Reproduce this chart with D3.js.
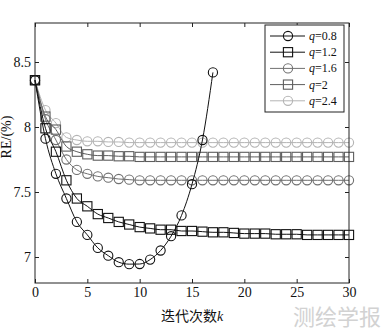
<!DOCTYPE html>
<html>
<head>
<meta charset="utf-8">
<script src="https://cdn.jsdelivr.net/npm/d3@7"></script>
<style>
  body { margin: 0; background: #fff; }
  svg { display: block; }
</style>
</head>
<body>
<div id="container"></div>
<script>
/* CONSTANTS AND GLOBALS */
const width = 384,
  height = 330,
  margin = { top: 23, bottom: 47, left: 35, right: 35 }

/* DATA */
const iterations = d3.range(0, 31)
const xTicks = [0, 5, 10, 15, 20, 25, 30]
const yTicks = [7, 7.5, 8, 8.5]
const seriesNames = ["0.8", "1.2", "1.6", "2", "2.4"]

const q08 = [8.36, 7.91, 7.64, 7.45, 7.27, 7.17, 7.07, 7.01, 6.96, 6.945, 6.946, 6.98, 7.05, 7.16, 7.32, 7.56, 7.90, 8.42]
const q12 = [8.36, 7.99, 7.81, 7.59, 7.45, 7.39, 7.33, 7.30, 7.27, 7.25, 7.23, 7.22, 7.21, 7.21, 7.20, 7.20,
  7.195, 7.19, 7.19, 7.185, 7.18, 7.18, 7.18, 7.175, 7.175, 7.175, 7.17, 7.17, 7.17, 7.17, 7.17]
const q16 = [8.36, 8.06, 7.90, 7.75, 7.67, 7.64, 7.62, 7.61, 7.60, 7.595, 7.59, 7.59, 7.59, 7.59, 7.59, 7.59,
  7.59, 7.59, 7.59, 7.59, 7.59, 7.59, 7.59, 7.59, 7.59, 7.59, 7.59, 7.59, 7.59, 7.59, 7.59]
const q2 = [8.36, 8.08, 7.98, 7.85, 7.81, 7.79, 7.78, 7.78, 7.775, 7.775, 7.77, 7.77, 7.77, 7.77, 7.77, 7.77,
  7.77, 7.77, 7.77, 7.77, 7.77, 7.77, 7.77, 7.77, 7.77, 7.77, 7.77, 7.77, 7.77, 7.77, 7.77]
const q24 = [8.36, 8.13, 8.03, 7.92, 7.90, 7.89, 7.89, 7.885, 7.885, 7.88, 7.88, 7.88, 7.88, 7.88, 7.88, 7.88,
  7.88, 7.88, 7.88, 7.88, 7.88, 7.88, 7.88, 7.88, 7.88, 7.88, 7.88, 7.88, 7.88, 7.88, 7.88]

const series = [
  { name: seriesNames[0], values: q08, color: "#111", marker: "circle" },
  { name: seriesNames[1], values: q12, color: "#111", marker: "square" },
  { name: seriesNames[2], values: q16, color: "#707070", marker: "circle" },
  { name: seriesNames[3], values: q2, color: "#5e5e5e", marker: "square" },
  { name: seriesNames[4], values: q24, color: "#b4b4b4", marker: "circle" }
]

// SCALES
const xScale = d3.scaleLinear()
  .domain([0, 30])
  .range([margin.left, width - margin.right])

const yScale = d3.scaleLinear()
  .domain([6.8, 8.8])
  .range([height - margin.bottom, margin.top])

// CREATE SVG ELEMENT
const svg = d3.select("#container")
  .append("svg")
  .attr("width", width)
  .attr("height", height)

const serif = "'Liberation Serif', 'Times New Roman', serif"

// WATERMARK (behind everything)
svg.append("text")
  .attr("x", 381)
  .attr("y", 325)
  .style("text-anchor", "end")
  .attr("font-family", "'Noto Sans CJK SC', sans-serif")
  .attr("font-size", 22)
  .attr("fill", "#d2d2d2")
  .text("测绘学报")

// LINES + MARKERS
const lineGen = d3.line()
  .x((d, i) => xScale(iterations[i]))
  .y(d => yScale(d))
  .curve(d3.curveMonotoneX)

function drawMarker(g, type, color) {
  if (type === "circle") {
    g.append("circle").attr("r", 4.6)
      .attr("fill", "none").attr("stroke", color).attr("stroke-width", 1.1)
  } else {
    g.append("rect").attr("x", -4.6).attr("y", -4.6).attr("width", 9.2).attr("height", 9.2)
      .attr("fill", "none").attr("stroke", color).attr("stroke-width", 1.1)
  }
}

// draw lighter series first so black ones sit on top
series.slice().reverse().forEach(s => {
  svg.append("path")
    .attr("fill", "none")
    .attr("stroke", s.color)
    .attr("stroke-width", 1)
    .attr("d", lineGen(s.values))

  s.values.forEach((v, i) => {
    const g = svg.append("g")
      .attr("transform", `translate(${xScale(iterations[i])}, ${yScale(v)})`)
    drawMarker(g, s.marker, s.color)
  })
})

// AXES (ticks pointing inward, box frame)
const axisStyle = g => {
  g.selectAll(".domain").remove()
  g.selectAll("line").attr("stroke", "#222")
  g.selectAll("text").attr("font-family", serif).attr("font-size", 14).attr("fill", "#111")
}

svg.append("g")
  .attr("transform", `translate(0, ${height - margin.bottom})`)
  .call(d3.axisBottom(xScale).tickValues(xTicks).tickSizeInner(-4).tickSizeOuter(0).tickPadding(4))
  .call(axisStyle)

svg.append("g")
  .attr("transform", `translate(0, ${margin.top})`)
  .call(d3.axisTop(xScale).tickValues(xTicks).tickSizeInner(-4).tickSizeOuter(0).tickFormat(""))
  .call(axisStyle)

svg.append("g")
  .attr("transform", `translate(${margin.left}, 0)`)
  .call(d3.axisLeft(yScale).tickValues(yTicks).tickSizeInner(-4).tickSizeOuter(0).tickPadding(4)
    .tickFormat(d3.format("")))
  .call(axisStyle)

svg.append("g")
  .attr("transform", `translate(${width - margin.right}, 0)`)
  .call(d3.axisRight(yScale).tickValues(yTicks).tickSizeInner(-4).tickSizeOuter(0).tickFormat(""))
  .call(axisStyle)

svg.append("rect")
  .attr("x", margin.left)
  .attr("y", margin.top)
  .attr("width", width - margin.left - margin.right)
  .attr("height", height - margin.top - margin.bottom)
  .attr("fill", "none")
  .attr("stroke", "#222")
  .attr("stroke-width", 1)

// AXIS LABELS
svg.append("text")
  .attr("transform", "rotate(-90)")
  .attr("x", -137)
  .attr("y", 11)
  .style("text-anchor", "middle")
  .attr("font-family", serif)
  .attr("font-size", 14)
  .attr("fill", "#111")
  .text("RE/(%)")

const xLabel = svg.append("text")
  .attr("x", (margin.left + width - margin.right) / 2)
  .attr("y", 321)
  .style("text-anchor", "middle")
  .attr("font-family", "'Noto Sans CJK SC', sans-serif")
  .attr("font-size", 14)
  .attr("fill", "#111")
xLabel.append("tspan").text("迭代次数")
xLabel.append("tspan").attr("font-family", serif).attr("font-style", "italic").text("k")

// LEGEND
const legend = svg.append("g")
legend.append("rect")
  .attr("x", 265).attr("y", 25)
  .attr("width", 79).attr("height", 87)
  .attr("fill", "#fff")
  .attr("stroke", "#222")

series.forEach((s, i) => {
  const y = 36 + i * 16.2
  const row = legend.append("g").attr("transform", `translate(0, ${y})`)
  row.append("line")
    .attr("x1", 270).attr("x2", 305)
    .attr("stroke", s.color).attr("stroke-width", 1)
  drawMarker(row.append("g").attr("transform", "translate(288, 0)"), s.marker, s.color)
  const t = row.append("text")
    .attr("x", 309).attr("y", 4)
    .attr("font-family", serif)
    .attr("font-size", 12)
    .attr("fill", "#111")
  t.append("tspan").attr("font-style", "italic").text("q")
  t.append("tspan").text("=" + s.name)
})
</script>
</body>
</html>
